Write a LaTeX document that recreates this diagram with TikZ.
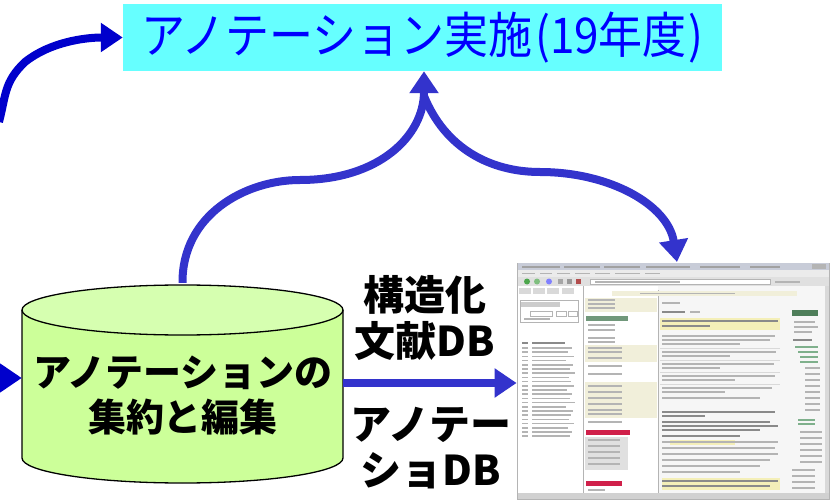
\documentclass[tikz,border=0pt]{standalone}
\usepackage{fontspec}
\newfontfamily\jp{Noto Sans CJK JP}
\usetikzlibrary{arrows.meta}
\definecolor{boxcyan}{HTML}{66FFFF}
\definecolor{txtblue}{HTML}{0000FF}
\definecolor{arrA}{HTML}{0000CC}
\definecolor{arrB}{HTML}{3333CC}
\definecolor{cylbody}{HTML}{CCFF99}
\definecolor{cyltop}{HTML}{D6FFB0}
\definecolor{scrbg}{HTML}{F6F6F6}
\definecolor{scrline}{HTML}{B4B4B4}
\definecolor{scrdark}{HTML}{8A8A8A}
\definecolor{scrtitle}{HTML}{C8CCD8}
\definecolor{scrbeige}{HTML}{F1EFDA}
\definecolor{scryel}{HTML}{F4EFB8}
\definecolor{scrred}{HTML}{D0204A}
\definecolor{scrgreen}{HTML}{4E7E5A}
\definecolor{scrlgreen}{HTML}{7FB08C}
\tikzset{
  arr/.style={line width=8pt, -{Triangle[length=22pt,width=28pt]}},
  tl/.style={line width=1.6pt, scrline},
  tld/.style={line width=1.6pt, scrdark},
  boldlbl/.style={font=\jp\bfseries\fontsize{41}{46}\selectfont, align=center, inner sep=0},
}
\begin{document}
\begin{tikzpicture}[x=1pt,y=-1pt]
\useasboundingbox (0,0) rectangle (831,500);

% top box
\node[fill=boxcyan, minimum width=599pt, minimum height=67pt, inner sep=0,
      font=\jp\fontsize{44}{48}\selectfont, text=txtblue] (tb) at (422.5,37.5)
      {\scalebox{1}[1.12]{アノテーション実施\hspace{3pt}(19年度\hspace{2pt})}};

% cylinder
\fill[cylbody] (22,310) -- (22,458) arc[start angle=180,end angle=0,x radius=160.5,y radius=25] -- (343,310) -- cycle;
\draw[line width=1.3pt] (22,310) -- (22,458) arc[start angle=180,end angle=0,x radius=160.5,y radius=25] -- (343,310);
\draw[line width=1.3pt, fill=cyltop] (182.5,310) ellipse[x radius=160.5, y radius=25];
\node[minimum width=321pt, minimum height=200pt, inner sep=0] (cyl) at (182.5,383) {};
\node[boldlbl, font=\jp\bfseries\fontsize{38}{45}\selectfont] (cyltxt) at (183,396) {アノテーションの\\集約と編集};

% screenshot
\node[minimum width=312pt, minimum height=236pt, inner sep=0, fill=scrbg, draw=scrline, line width=0.8pt] (ss) at (673,381) {};
\fill[scrtitle] (517.5,263.5) rectangle (828.5,270);
\foreach \a/\b in {522/560,564/600,604/640,646/690,700/740,750/780}{\draw[line width=1.5pt, scrdark!80] (\a,266.8) -- (\b,266.8);}
\fill[scrline] (812,264.5) rectangle (826,269);
\fill[white!92!black] (517.5,270) rectangle (828.5,277);
\foreach \a/\b in {522/535,540/552,557/570,575/590,595/610,615/640,645/660}{\draw[tl] (\a,273.5) -- (\b,273.5);}
\fill[white!88!black] (517.5,277) rectangle (828.5,286);
\fill[green!50!black!70] (527,281.5) circle (3);
\fill[green!50!black!50] (537,281.5) circle (3);
\fill[blue!50] (549,281.5) circle (3);
\fill[gray!70] (558,279) rectangle (563,284);
\fill[gray!80] (567,279) rectangle (572,284);
\fill[red!40!gray] (576,279) rectangle (581,284);
\draw[scrline, fill=white] (590,279) rectangle (770,284.5);
\draw[tl] (595,281.8) -- (680,281.8);
\draw[tl] (775,281.8) -- (800,281.8);
% left panel
\fill[white] (518,286) rectangle (583,493);
\draw[scrline, line width=1pt] (583,286) -- (583,493);
\foreach \a in {519,533,547,562}{\fill[white!85!black] (\a,288) rectangle (\a+12,294);}
\draw[scrline] (520,300) rectangle (578,322);
\fill[white!80!black] (521,302) rectangle (560,307);
\draw[scrline] (530,311) rectangle (552,316);
\draw[scrline] (556,311) rectangle (566,316);
\draw[scrline] (568,311) rectangle (577,316);
\draw[tl] (524,319) -- (550,319);
\draw[tld] (522,343) -- (528,343); \draw[tld] (532,343) -- (565,343);
\foreach \i/\l in {0/572,1/568,2/574,3/566,4/573,5/570,6/575,7/569,8/571,9/574,10/567,11/572,12/570,13/575,14/566,15/573,16/571,17/569,18/574,19/568,20/572,21/570}{
  \draw[tl] (522,348+\i*4.2) -- (528,348+\i*4.2);
  \draw[tl] (532,348+\i*4.2) -- (\l,348+\i*4.2);
}
% middle panel
\fill[white] (584,286) rectangle (658,493);
\draw[scrline, line width=0.6pt] (658,290) -- (658,493);
\fill[scrbeige] (585,298) rectangle (657,312);
\fill[scrgreen!80] (586,316) rectangle (628,321);
\foreach \y in {300,304,308,325,330,338,342}{\draw[tl] (588,\y) -- (615,\y);}
\fill[scrbeige] (585,345) rectangle (657,362);
\fill[scrbeige] (585,382) rectangle (657,418);
\foreach \y in {348,352,358,366,374,386,392,398,404,410,414,422}{\draw[tl] (588,\y) -- (622,\y);}
\fill[scrred] (586,430) rectangle (630,435);
\fill[white!88!black] (585,437) rectangle (628,470);
\foreach \y in {440,446,452,458,464}{\draw[tl] (588,\y) -- (620,\y);}
\fill[scrred] (586,481) rectangle (622,486);
\draw[tl] (588,490) -- (605,490);
% main content
\fill[scrbeige] (612,291) rectangle (797,296);
\draw[tl] (640,293.5) -- (735,293.5);
\draw[tl] (662,303) -- (680,303);
\draw[tld] (662,312) -- (685,312); \draw[tl] (690,312) -- (700,312);
\fill[scryel] (660,318) rectangle (780,330);
\draw[tld] (662,321) -- (778,321); \draw[tld] (662,326) -- (710,326);
\foreach \y/\l in {336/775,340/770,344/740,352/776,356/730,364/774,368/720,376/775,380/735,388/772,392/725,398/760}{\draw[tl] (662,\y) -- (\l,\y);}
\foreach \y in {348,360,372,384}{\draw[white!85!black, line width=0.6pt] (660,\y) -- (780,\y);}
\foreach \y/\l in {412/775,416/705,422/770,426/778,430/760,436/740}{\draw[tld] (662,\y) -- (\l,\y);}
\fill[scryel] (670,440) rectangle (735,445);
\foreach \y/\l in {442/778,448/775,454/778,460/770,466/760,472/740}{\draw[tl] (662,\y) -- (\l,\y);}
\fill[scryel] (662,478) rectangle (780,490);
\draw[tld] (662,481) -- (778,481); \draw[tld] (662,486) -- (770,486);
% right sidebar
\fill[scrgreen] (792,310) rectangle (818,316);
\foreach \y/\l in {322/815,327/818,332/812}{\draw[tl] (794,\y) -- (\l,\y);}
\draw[tld] (793,340) -- (812,340);
\foreach \y/\a in {347/795,352/798,357/800,362/800}{\draw[scrlgreen, line width=1.4pt] (\a,\y) -- (818,\y);}
\foreach \y in {368,374,380,386,392,398,404,410}{\draw[tl] (805,\y) -- (820,\y);}
\foreach \y in {420,424}{\draw[scrlgreen, line width=1.4pt] (798,\y) -- (815,\y);}
\foreach \y in {432,438,444,450,456,462}{\draw[tl] (800,\y) -- (822,\y);}
\foreach \y in {470,476,482,488}{\draw[tl] (792,\y) -- (815,\y);}
\fill[white!85!black] (825,286) rectangle (828.5,493);
\fill[white!82!black] (517.5,493) rectangle (828.5,498.5);

% labels
\node[boldlbl] (l1) at (425,318) {構造化\\文献DB};
\node[boldlbl] (l2) at (431,448) {アノテー\\ショDB};

% connectors
\coordinate (tlstart) at (-1,122);
\draw[arr, arrA] (tlstart) .. controls (6,95) and (4,82) .. (25,62) .. controls (50,42) and (85,37.5) .. (tb.west);
\coordinate (lstart) at (-12,378);
\draw[arr, arrA] (lstart) -- (lstart -| cyl.west);
\draw[arr, arrB] (cyl.east) -- (cyl.east -| ss.west);
\coordinate (apex) at (424,96);
\coordinate (sstop) at (677,262);
\draw[arr, arrB] (cyl.north) .. controls (182,215) and (245,180) .. (300,180) .. controls (380,180) and (424,135) .. ([xshift=1.5pt]tb.south);
\draw[arr, arrB] (apex) .. controls (445,148) and (490,172) .. (540,172) .. controls (610,172) and (668,205) .. (sstop);
\end{tikzpicture}
\end{document}
